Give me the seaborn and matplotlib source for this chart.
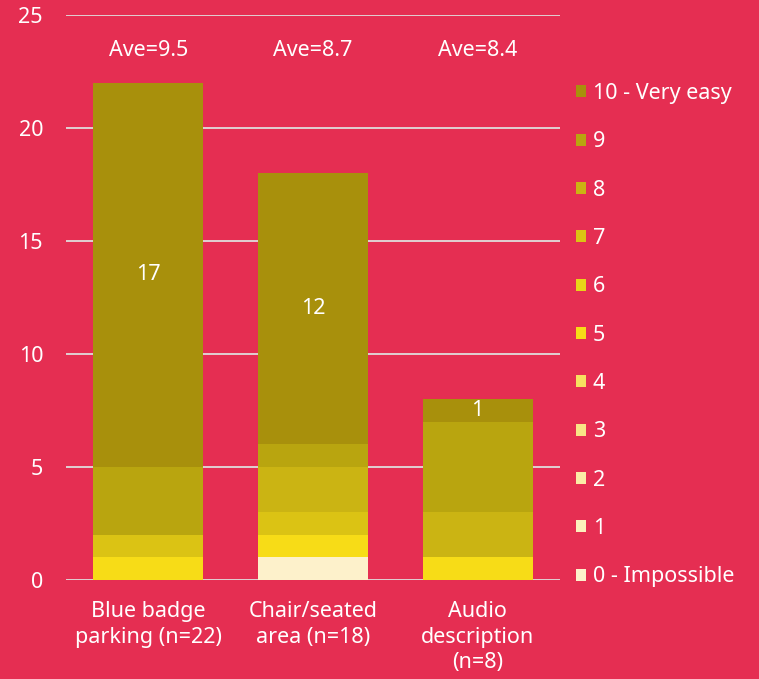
import matplotlib
matplotlib.use("Agg")
import matplotlib.pyplot as plt
import seaborn as sns
import pandas as pd
import numpy as np

categories = ["Blue badge\nparking (n=22)", "Chair/seated\narea (n=18)", "Audio\ndescription\n(n=8)"]
levels = ["10 - Very easy", "9", "8", "7", "6", "5", "4", "3", "2", "1", "0 - Impossible"]
scores = [10, 9, 8, 7, 6, 5, 4, 3, 2, 1, 0]
blue_badge = [17, 3, 0, 1, 0, 1, 0, 0, 0, 0, 0]
chair_seated = [12, 1, 2, 1, 0, 1, 0, 0, 0, 0, 1]
audio_desc = [1, 4, 2, 0, 0, 1, 0, 0, 0, 0, 0]
averages = ["Ave=9.5", "Ave=8.7", "Ave=8.4"]
colors = ["#a8900c", "#b9a50f", "#cbb413", "#dbc314", "#e8d418", "#f7dc17",
          "#f7e060", "#f9e486", "#fbeba6", "#fcf0bc", "#fdf1cb"]

BG = "#e52e52"
FS = 15.5
series = [blue_badge, chair_seated, audio_desc]
rows = []
for ci, (cat, vals) in enumerate(zip(categories, series)):
    for lev, v in zip(levels, vals):
        rows.append({"cat": ci, "level": lev, "count": v})
df = pd.DataFrame(rows)

sns.set_theme(style="white")
plt.rcParams["font.family"] = ["Noto Sans", "DejaVu Sans"]

fig = plt.figure(figsize=(7.59, 6.79), dpi=100, facecolor=BG)
ax = fig.add_axes([66/759, 1-580/679, (560-66)/759, (580-15)/679])
ax.set_facecolor(BG)

sns.histplot(data=df, x="cat", weights="count", hue="level", hue_order=levels,
             palette=colors, multiple="stack", discrete=True, shrink=0.667,
             alpha=1, linewidth=0, ax=ax, legend=True)

ax.set_xlim(-0.5, 2.5)
ax.set_ylim(0, 25)
ax.set_yticks([0, 5, 10, 15, 20, 25])
ax.set_xticks([0, 1, 2])
ax.set_xticklabels(categories, color="white", fontsize=FS, linespacing=1.3)
ax.tick_params(axis="y", colors="white", labelsize=FS, length=0, pad=16.5)
ax.tick_params(axis="x", colors="white", length=0, pad=15)
for lab in ax.get_yticklabels():
    lab.set_color("white")
ax.yaxis.grid(True, color="#e0dcdc", linewidth=1.3)
ax.set_axisbelow(True)
for s in ax.spines.values():
    s.set_visible(False)
ax.set_xlabel("")
ax.set_ylabel("")

# labels on top segment and averages
for ci, vals in enumerate(series):
    top = vals[0]
    below = sum(vals[1:])
    ax.text(ci, below + top / 2, str(top), ha="center", va="center",
            color="white", fontsize=FS)
    ax.text(ci, 23.45, averages[ci], ha="center", va="center",
            color="white", fontsize=FS)

sns.move_legend(ax, loc="upper left", bbox_to_anchor=(576/759, 1-83/679),
                bbox_transform=fig.transFigure, frameon=False, title=None,
                fontsize=FS, labelcolor="white", handlelength=0.47,
                handleheight=0.47, handletextpad=0.3, labelspacing=1.27,
                borderpad=0, borderaxespad=0)

fig.savefig("out.png", dpi=100, facecolor=BG)
